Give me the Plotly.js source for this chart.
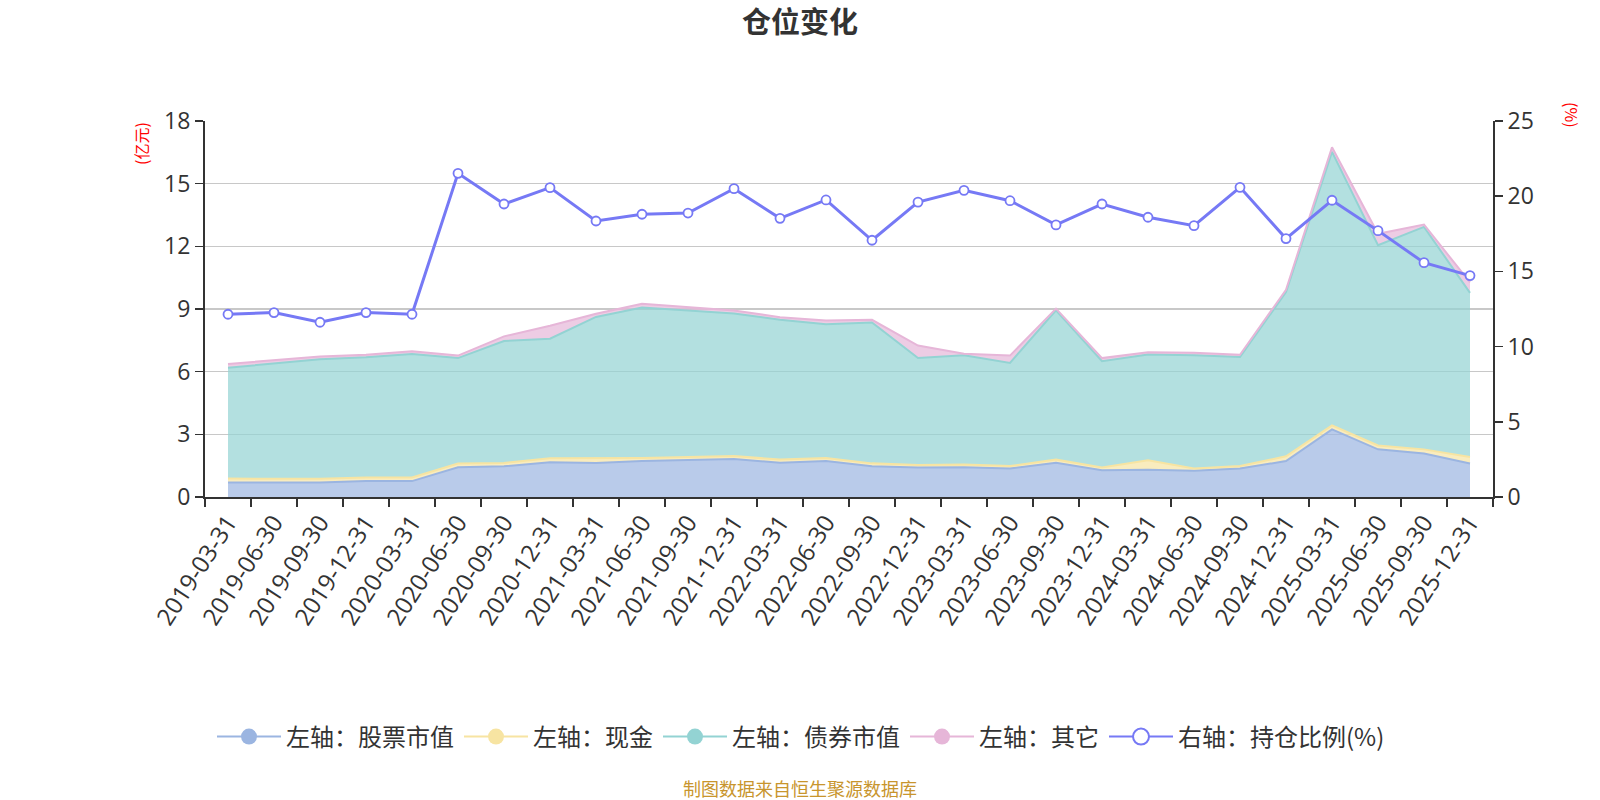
<!DOCTYPE html>
<html>
<head>
<meta charset="utf-8">
<script src="https://cdn.plot.ly/plotly-3.0.1.min.js"></script>
<style>
  html, body { margin: 0; padding: 0; background: #fff; }
  #chart { width: 1600px; height: 800px; }
</style>
</head>
<body>
<div id="chart"></div>
<script>
const dates = ["2019-03-31","2019-06-30","2019-09-30","2019-12-31","2020-03-31","2020-06-30","2020-09-30","2020-12-31","2021-03-31","2021-06-30","2021-09-30","2021-12-31","2022-03-31","2022-06-30","2022-09-30","2022-12-31","2023-03-31","2023-06-30","2023-09-30","2023-12-31","2024-03-31","2024-06-30","2024-09-30","2024-12-31","2025-03-31","2025-06-30","2025-09-30","2025-12-31"];
const stockValue = [0.70,0.71,0.70,0.76,0.76,1.42,1.47,1.66,1.63,1.72,1.76,1.82,1.64,1.72,1.47,1.41,1.42,1.36,1.64,1.28,1.31,1.26,1.36,1.72,3.24,2.28,2.08,1.60];
const cashValue = [0.18,0.18,0.17,0.17,0.17,0.18,0.16,0.19,0.22,0.15,0.15,0.14,0.15,0.15,0.14,0.12,0.13,0.12,0.15,0.13,0.45,0.10,0.12,0.23,0.19,0.19,0.20,0.31];
const bondValue = [5.31,5.50,5.72,5.76,5.91,5.05,5.84,5.73,6.77,7.20,7.03,6.82,6.70,6.40,6.74,5.12,5.23,4.94,7.15,5.09,5.06,5.42,5.22,7.86,13.09,9.58,10.65,7.86];
const otherValue = [0.18,0.16,0.14,0.12,0.14,0.12,0.22,0.62,0.15,0.18,0.15,0.15,0.12,0.18,0.13,0.60,0.08,0.35,0.08,0.15,0.11,0.12,0.11,0.11,0.22,0.55,0.11,0.50];
const positionRatio = [12.15,12.26,11.62,12.26,12.15,21.52,19.48,20.57,18.35,18.80,18.88,20.50,18.53,19.75,17.07,19.61,20.39,19.70,18.09,19.48,18.60,18.04,20.59,17.18,19.73,17.71,15.58,14.72];

const seriesNames = ["左轴：股票市值","左轴：现金","左轴：债券市值","左轴：其它","右轴：持仓比例(%)"];
const colors = ["#9bb5e1","#f7e4a2","#93d3d3","#e6b6d8","#7679f5"];
const fills = ["rgba(155,181,225,0.7)","rgba(247,228,162,0.7)","rgba(147,211,211,0.7)","rgba(230,182,216,0.7)"];

const FONT = "'Noto Sans CJK SC', 'Noto Sans', sans-serif";
const NUMFONT = "'Open Sans', 'Noto Sans', sans-serif";
const areaData = [stockValue, cashValue, bondValue, otherValue];
const traces = [];
areaData.forEach((vals, i) => {
  traces.push({
    type: "scatter", mode: "lines", x: dates, y: vals,
    stackgroup: "one", fill: "tonexty", fillcolor: fills[i],
    line: {color: colors[i], width: 2},
    name: seriesNames[i], showlegend: false, hoverinfo: "x+y+name"
  });
});
traces.push({
  type: "scatter", mode: "lines+markers", x: dates, y: positionRatio, yaxis: "y2",
  line: {color: colors[4], width: 3},
  marker: {symbol: "circle", size: 9, color: "#ffffff", line: {color: colors[4], width: 1.8}},
  name: seriesNames[4], showlegend: false
});
// legend entries
seriesNames.forEach((nm, i) => {
  const open = i === 4;
  traces.push({
    type: "scatter", mode: "lines+markers", x: [null], y: [null],
    yaxis: open ? "y2" : "y",
    name: nm, showlegend: true,
    line: {color: colors[i], width: 2},
    marker: {symbol: "circle", size: 16,
      color: open ? "#ffffff" : colors[i],
      line: {color: colors[i], width: open ? 2 : 0}}
  });
});

const L = 205, R = 1493, T = 121, B = 497;
const pw = R - L, ph = B - T;
const px = v => (v - L) / pw;
const py = v => (B - v) / ph;

const layout = {
  width: 1600, height: 800,
  paper_bgcolor: "#ffffff", plot_bgcolor: "#ffffff",
  font: {family: FONT, color: "#333333"},
  margin: {l: L, r: 1600 - R, t: T, b: 800 - B, pad: 0},
  title: {text: "仓位变化", x: 0.5, xanchor: "center", xref: "container",
          y: 1 - 23/800, yanchor: "middle", yref: "container",
          font: {size: 29, color: "#333333", family: FONT, weight: "bold"}},
  xaxis: {
    type: "category", range: [-0.5, dates.length - 0.5],
    tickson: "boundaries", ticks: "outside", ticklen: 8, tickwidth: 1.5, tickcolor: "#333",
    showline: true, linecolor: "#333", linewidth: 2, showgrid: false, zeroline: false,
    tickangle: -57, tickfont: {size: 24, color: "#333", family: NUMFONT}, automargin: false
  },
  yaxis: {
    range: [0, 18], tickvals: [0,3,6,9,12,15,18], ticks: "outside", ticklen: 8,
    tickwidth: 1.5, tickcolor: "#333", showline: true, linecolor: "#333", linewidth: 2,
    showgrid: true, gridcolor: "#c8c8c8", gridwidth: 1.3, zeroline: false,
    tickfont: {size: 23, color: "#333", family: NUMFONT}, automargin: false
  },
  yaxis2: {
    overlaying: "y", side: "right", range: [0, 25], tickvals: [0,5,10,15,20,25],
    ticks: "outside", ticklen: 8, tickwidth: 1.5, tickcolor: "#333",
    showline: true, linecolor: "#333", linewidth: 2, showgrid: false, zeroline: false,
    tickfont: {size: 23, color: "#333", family: NUMFONT}, automargin: false
  },
  legend: {orientation: "h", traceorder: "normal", itemwidth: 64,
           x: px(801), xanchor: "center", y: py(737), yanchor: "middle",
           font: {size: 24, color: "#333"}, bgcolor: "rgba(0,0,0,0)"},
  annotations: [
    {text: "(亿元)", xref: "paper", yref: "paper", x: px(141), y: py(144),
     xanchor: "center", yanchor: "middle",
     textangle: -90, showarrow: false, font: {size: 16, color: "#ff0000", family: FONT}},
    {text: "(%)", xref: "paper", yref: "paper", x: px(1572), y: py(115),
     xanchor: "center", yanchor: "middle",
     textangle: 90, showarrow: false, font: {size: 16, color: "#ff0000", family: FONT}},
    {text: "制图数据来自恒生聚源数据库", xref: "paper", yref: "paper", x: px(800), y: py(788),
     xanchor: "center", yanchor: "middle",
     showarrow: false, font: {size: 18, color: "#c8952d", family: FONT}}
  ],
  showlegend: true
};

Plotly.newPlot("chart", traces, layout, {displayModeBar: false, staticPlot: true});
</script>
</body>
</html>
